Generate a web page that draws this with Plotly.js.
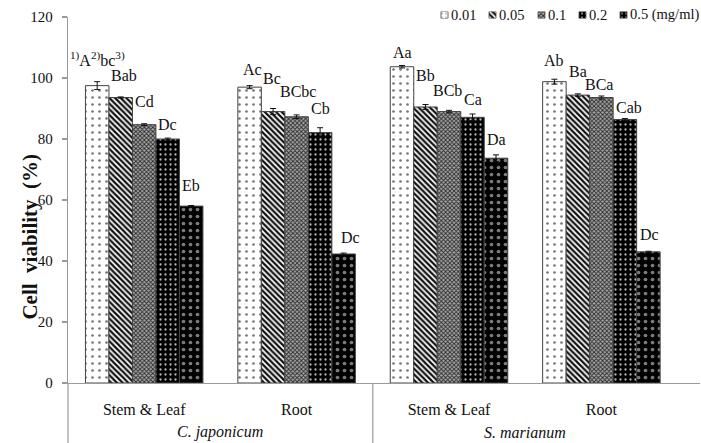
<!DOCTYPE html>
<html>
<head>
<meta charset="utf-8">
<script src="https://cdn.plot.ly/plotly-3.0.1.min.js"></script>
<style>html,body{margin:0;padding:0;background:#fff;}#chart{width:701px;height:443px;}</style>
</head>
<body>
<div id="chart"></div>
<script>
// ---- data ----
const categories = ['Stem &amp; Leaf', 'Root', 'Stem &amp; Leaf', 'Root'];
const species = ['C. japonicum', 'S. marianum'];
const concentrations = ['0.01', '0.05', '0.1', '0.2', '0.5'];
const unitLabel = '(mg/ml)';

const v001 = [97.5, 97.0, 103.7, 98.8];
const v005 = [93.6, 89.0, 90.5, 94.4];
const v01  = [84.7, 87.3, 89.0, 93.6];
const v02  = [80.0, 82.1, 87.1, 86.4];
const v05  = [58.0, 42.3, 73.7, 43.0];

const e001 = [1.3, 0.5, 0.4, 0.8];
const e005 = [0.2, 1.0, 0.8, 0.4];
const e01  = [0.3, 0.6, 0.4, 0.5];
const e02  = [0.3, 1.6, 1.1, 0.3];
const e05  = [0.2, 0.3, 1.1, 0.2];

const l001 = ['<sup>1)</sup>A<sup>2)</sup>bc<sup>3)</sup>', 'Ac', 'Aa', 'Ab'];
const l005 = ['Bab', 'Bc', 'Bb', 'Ba'];
const l01  = ['Cd', 'BCbc', 'BCb', 'BCa'];
const l02  = ['Dc', 'Cb', 'Ca', 'Cab'];
const l05  = ['Eb', 'Dc', 'Da', 'Dc'];

const yTitle = 'Cell\u00a0 viability\u00a0 (%)';
const yTicks = [0, 20, 40, 60, 80, 100, 120];

// ---- styling ----
const serif = 'Liberation Serif, Times New Roman, serif';
const values = [v001, v005, v01, v02, v05];
const errors = [e001, e005, e01, e02, e05];
const letters = [l001, l005, l01, l02, l05];
// label nudges in px (style only), as placed in the reference
const labelLift = [[3, -2, -5, 1], [3, 12, 11, 4], [4, 5, 2, -6], [-4, 1, -4, -7], [2, -2, -3, -1]];
const labelSlide = [[0, 3, 0, 0], [3, -1, 0, 0], [0, 1, -2, -2], [0, 0, 0, 4], [0, 7, 0, 1]];
const patterns = [
  {shape: '.', bgcolor: '#ffffff', fgcolor: '#777777', size: 7, solidity: 0.12},
  {shape: '\\', bgcolor: '#ffffff', fgcolor: '#111111', size: 4, solidity: 0.55},
  {shape: 'x', bgcolor: '#a8a8a8', fgcolor: '#2a2a2a', size: 3, solidity: 0.5},
  {shape: '.', bgcolor: '#000000', fgcolor: '#b8b8b8', size: 5, solidity: 0.16},
  {shape: '.', bgcolor: '#000000', fgcolor: '#7a7a7a', size: 7, solidity: 0.22}
];
const xs = categories.map((_, i) => i);
const xRange = [-0.5, 3.647];
const bargap = 0.229;
const barW = (1 - bargap) / concentrations.length;
const plotH = 383, axisTop = 17;
const yDomTop = (plotH - axisTop) / plotH;

const traces = [];
const annotations = [];
concentrations.forEach((c, k) => {
  traces.push({
    type: 'bar', x: xs, y: values[k], name: c, showlegend: false,
    marker: {color: patterns[k].bgcolor, line: {color: '#444', width: 1}, pattern: patterns[k]},
    error_y: {type: 'data', array: errors[k], visible: true, color: '#111', thickness: 1, width: 3},
    xaxis: 'x', yaxis: 'y', hoverinfo: 'skip'
  });
  xs.forEach((x, i) => {
    annotations.push({
      x: x + (k - (concentrations.length - 1) / 2) * barW,
      y: values[k][i] + errors[k][i], xref: 'x', yref: 'y',
      text: letters[k][i], showarrow: false, xanchor: 'center', yanchor: 'bottom',
      yshift: 7.5 + labelLift[k][i], xshift: labelSlide[k][i],
      font: {family: serif, size: 16, color: '#111'}
    });
  });
});

// custom legend swatches (bars on a small helper axis measured in px)
const legendLeft = [441, 489, 538, 579, 620];
const swatch = 7;
concentrations.forEach((c, k) => {
  traces.push({
    type: 'bar', x: [legendLeft[k]], y: [1], base: 0, width: swatch, offset: 0,
    showlegend: false, hoverinfo: 'skip', xaxis: 'x2', yaxis: 'y2',
    marker: {color: patterns[k].bgcolor, line: {color: '#444', width: 0.8},
             pattern: Object.assign({}, patterns[k], {size: Math.min(patterns[k].size, 4)})}
  });
  annotations.push({
    x: legendLeft[k] + swatch + 0.5, y: 0.5, xref: 'x2', yref: 'y2',
    text: k === concentrations.length - 1 ? c + ' ' + unitLabel : c,
    showarrow: false, xanchor: 'left', yanchor: 'middle',
    font: {family: serif, size: 14.5, color: '#111'}
  });
});

// species labels
species.forEach((s, j) => {
  annotations.push({
    x: 2 * j + 0.5, y: -49 / plotH, xref: 'x', yref: 'paper', text: '<i>' + s + '</i>',
    showarrow: false, xanchor: 'center', yanchor: 'middle',
    font: {family: serif, size: 16, color: '#111'}
  });
});
// y title
annotations.push({
  x: 0, xref: 'paper', xshift: -38, y: 48, yref: 'y', text: '<b>' + yTitle + '</b>',
  textangle: -90, showarrow: false, xanchor: 'center', yanchor: 'middle',
  font: {family: serif, size: 21, color: '#111'}
});

const divX = (1.5 - xRange[0]) / (xRange[1] - xRange[0]);
const bottomY = -60 / plotH;
const shapes = [
  {type: 'line', xref: 'paper', yref: 'paper', x0: 0, x1: 0, y0: 0, y1: bottomY, line: {color: '#9a9a9a', width: 1.2}},
  {type: 'line', xref: 'paper', yref: 'paper', x0: divX, x1: divX, y0: 0, y1: bottomY, line: {color: '#9a9a9a', width: 1.2}}
];

const layout = {
  width: 701, height: 443,
  margin: {l: 68, r: 1, t: 0, b: 60, pad: 0},
  paper_bgcolor: '#fff', plot_bgcolor: '#fff',
  barmode: 'group', bargap: bargap, bargroupgap: 0,
  showlegend: false,
  xaxis: {
    domain: [0, 1], range: xRange, type: 'linear', anchor: 'y',
    tickvals: xs, ticktext: categories, ticks: '', ticklabelstandoff: 12,
    showline: true, linecolor: '#9a9a9a', linewidth: 1.2, showgrid: false, zeroline: false,
    tickfont: {family: serif, size: 16, color: '#111'}, fixedrange: true
  },
  yaxis: {
    domain: [0, yDomTop], range: [0, 120], tickvals: yTicks, anchor: 'x',
    ticks: 'outside', ticklen: 5, tickcolor: '#9a9a9a', tickwidth: 1.2,
    showline: true, linecolor: '#9a9a9a', linewidth: 1.2, showgrid: false, zeroline: false,
    ticklabelstandoff: 6,
    tickfont: {family: serif, size: 15, color: '#111'}, fixedrange: true
  },
  xaxis2: {domain: [0, 1], range: [68, 700], anchor: 'y2', visible: false, fixedrange: true},
  yaxis2: {domain: [(plotH - 18.5) / plotH, (plotH - 11.5) / plotH], range: [0, 1], anchor: 'x2', visible: false, fixedrange: true},
  annotations: annotations,
  shapes: shapes
};

Plotly.newPlot('chart', traces, layout, {staticPlot: true, displayModeBar: false});
</script>
</body>
</html>
